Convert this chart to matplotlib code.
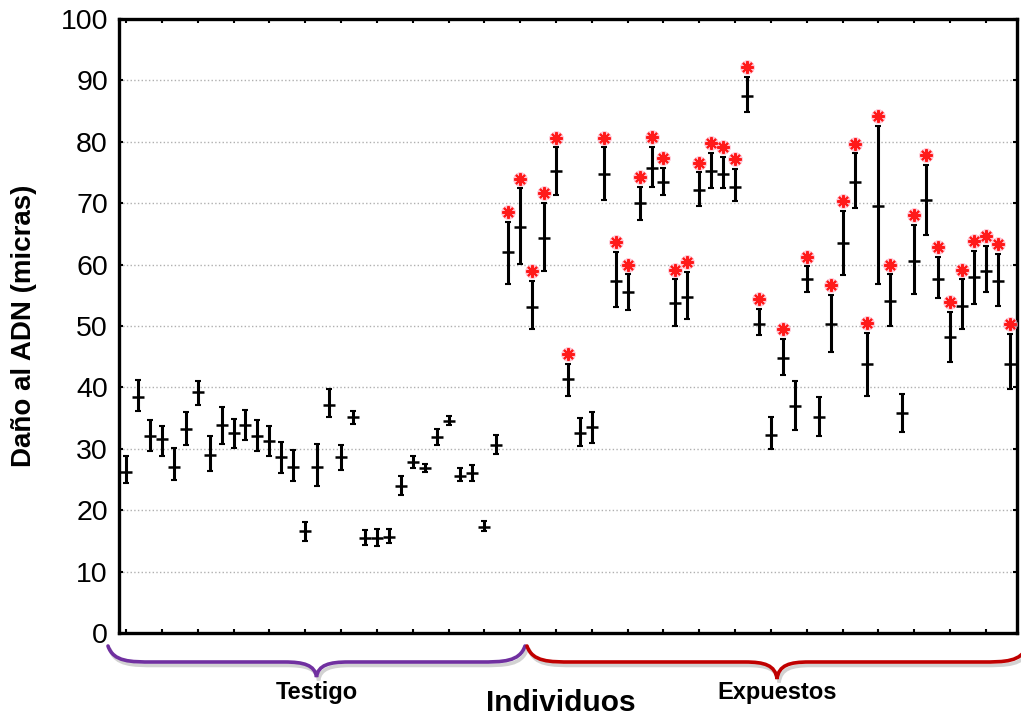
import numpy as np
import matplotlib
matplotlib.use('Agg')
import matplotlib.pyplot as plt
import matplotlib.patheffects as pe
from matplotlib.path import Path
from matplotlib.patches import PathPatch

plt.rcParams['font.family'] = ['Liberation Sans', 'DejaVu Sans']

individuos = list(range(1, 76))
medias = [26.3, 38.4, 32.1, 31.6, 27.1, 33.2, 39.2, 29.0, 33.9, 32.6,
          33.9, 32.1, 31.2, 28.6, 27.1, 16.6, 27.1, 37.2, 28.6, 35.2,
          15.4, 15.5, 15.7, 24.0, 27.8, 26.9, 32.0, 34.6, 25.6, 26.1,
          17.2, 30.7,
          62.0, 66.2, 53.1, 64.4, 75.2, 41.4, 32.5, 33.5, 74.8, 57.3,
          55.5, 70.0, 75.8, 73.5, 53.7, 54.7, 72.1, 75.2, 74.8, 72.7,
          87.5, 50.3, 32.3, 44.8, 36.9, 57.6, 35.2, 50.3, 63.5, 73.5,
          43.8, 69.6, 54.1, 35.9, 60.6, 70.6, 57.6, 48.2, 53.2, 58.0,
          58.9, 57.3, 43.8]
minimos = [24.4, 36.1, 29.6, 28.8, 24.9, 30.6, 37.1, 26.4, 30.8, 30.1,
           31.4, 29.6, 28.8, 26.0, 24.7, 15.0, 24.0, 35.1, 26.5, 34.1,
           14.3, 14.2, 14.6, 22.4, 26.8, 26.3, 30.7, 33.8, 24.7, 24.8,
           16.6, 29.1,
           56.8, 60.1, 49.5, 58.9, 71.4, 38.6, 30.5, 31.0, 70.6, 53.1,
           52.6, 67.2, 72.6, 71.4, 50.0, 51.1, 69.5, 72.4, 72.4, 70.3,
           84.9, 48.5, 30.0, 42.0, 33.1, 55.5, 32.1, 45.8, 58.3, 69.2,
           38.6, 56.8, 50.0, 32.8, 55.2, 64.8, 54.5, 44.2, 49.5, 53.6,
           55.5, 53.2, 39.8]
maximos = [28.8, 41.2, 34.7, 33.7, 30.1, 36.0, 41.0, 32.1, 36.8, 34.8,
           36.3, 34.7, 33.7, 31.1, 29.8, 18.1, 30.8, 39.8, 30.7, 36.2,
           16.7, 17.0, 17.0, 25.6, 28.9, 27.6, 33.3, 35.4, 26.8, 27.4,
           18.2, 32.3,
           67.0, 72.4, 57.3, 70.1, 79.1, 43.8, 35.0, 36.0, 79.1, 62.0,
           58.4, 72.6, 79.2, 75.8, 57.6, 58.8, 75.0, 78.2, 77.6, 75.6,
           90.6, 52.8, 35.2, 47.9, 41.1, 59.7, 38.5, 55.0, 68.8, 78.1,
           48.9, 82.6, 58.4, 39.0, 66.4, 76.3, 61.2, 52.3, 57.6, 62.2,
           63.0, 61.7, 48.7]
# individuos con diferencia significativa (asterisco rojo)
significativos = [33, 34, 35, 36, 37, 38, 41, 42, 43, 44, 45, 46, 47, 48,
                  49, 50, 51, 52, 53, 54, 56, 58, 60, 61, 62, 63, 64, 65,
                  67, 68, 69, 70, 71, 72, 73, 74, 75]
grupos = ['Testigo', 'Expuestos']
y_ticks = list(range(0, 101, 10))

W, H = 1021, 719


def brace(fig, x0, x1, y_top, y_mid, y_tip, color):
    """Curly brace in pixel coords (y measured from the top)"""
    xc = (x0 + x1) / 2
    f = lambda x, y: (x / W, 1 - y / H)
    r, r2 = 45, 32
    verts = [f(x0, y_top),
             f(x0 + 0.12 * r, y_mid), f(x0 + 0.5 * r, y_mid), f(x0 + r, y_mid),
             f(xc - r2, y_mid),
             f(xc - 0.4 * r2, y_mid), f(xc - 0.05 * r2, y_mid + 3), f(xc, y_tip),
             f(xc + 0.05 * r2, y_mid + 3), f(xc + 0.4 * r2, y_mid), f(xc + r2, y_mid),
             f(x1 - r, y_mid),
             f(x1 - 0.5 * r, y_mid), f(x1 - 0.12 * r, y_mid), f(x1, y_top)]
    codes = [Path.MOVETO,
             Path.CURVE4, Path.CURVE4, Path.CURVE4,
             Path.LINETO,
             Path.CURVE4, Path.CURVE4, Path.CURVE4,
             Path.CURVE4, Path.CURVE4, Path.CURVE4,
             Path.LINETO,
             Path.CURVE4, Path.CURVE4, Path.CURVE4]
    patch = PathPatch(Path(verts, codes), transform=fig.transFigure, fill=False,
                      edgecolor=color, lw=2.6, capstyle='round', clip_on=False)
    patch.set_path_effects([pe.SimpleLineShadow(offset=(1.5, -2.5), shadow_color='gray', alpha=0.35),
                            pe.Normal()])
    fig.add_artist(patch)


fig = plt.figure(figsize=(W / 100, H / 100), dpi=100)
ax = fig.add_axes([119 / W, 1 - 633 / H, (1017 - 119) / W, (633 - 19) / H])

x = np.array(individuos)
m = np.array(medias)
lo = np.array(minimos)
hi = np.array(maximos)

ax.errorbar(x, m, yerr=[m - lo, hi - m], fmt='none', ecolor='black',
            elinewidth=2.2, capsize=2, capthick=1.5, zorder=3)
ax.plot(x, m, ls='none', marker='_', ms=9, mew=1.8, color='black', zorder=4)

# asteriscos con un halo rosado tenue
sig = np.array(significativos)
y_sig = hi[sig - 1] + 1.6
ax.plot(sig, y_sig, ls='none', marker=(8, 2, 0), ms=10, mew=3.2,
        color='#ffb3c6', alpha=0.7, zorder=5)
ax.plot(sig, y_sig, ls='none', marker=(8, 2, 0), ms=9, mew=1.5,
        color='#ff1a1a', zorder=6)

ax.set_xlim(0.41, 75.6)
ax.set_ylim(0, 100)
ax.set_yticks(y_ticks)
ax.set_xticks(individuos[::3])
ax.set_xticklabels([])
ax.tick_params(axis='both', direction='in', length=3, width=1.5,
               top=True, right=True, labelsize=20.5, pad=8)
for s in ax.spines.values():
    s.set_linewidth(2.4)
ax.yaxis.grid(True, linestyle=':', color='#b0b0b0', linewidth=1)
ax.set_axisbelow(True)

fig.text(24 / W, 1 - 326 / H, 'Daño al ADN (micras)', rotation=90, fontsize=20,
         fontweight='bold', ha='center', va='center')

brace(fig, 108, 525, 646, 662, 677, '#7030a0')
brace(fig, 527, 1027, 646, 662, 679, '#c00000')

fig.text(317 / W, 1 - 692 / H, grupos[0], fontsize=17, fontweight='bold',
         ha='center', va='center')
fig.text(777 / W, 1 - 692 / H, grupos[1], fontsize=17, fontweight='bold',
         ha='center', va='center')
fig.text(561 / W, 1 - 703 / H, 'Individuos', fontsize=21.5, fontweight='bold',
         ha='center', va='center')

fig.savefig('out.png', dpi=100)
